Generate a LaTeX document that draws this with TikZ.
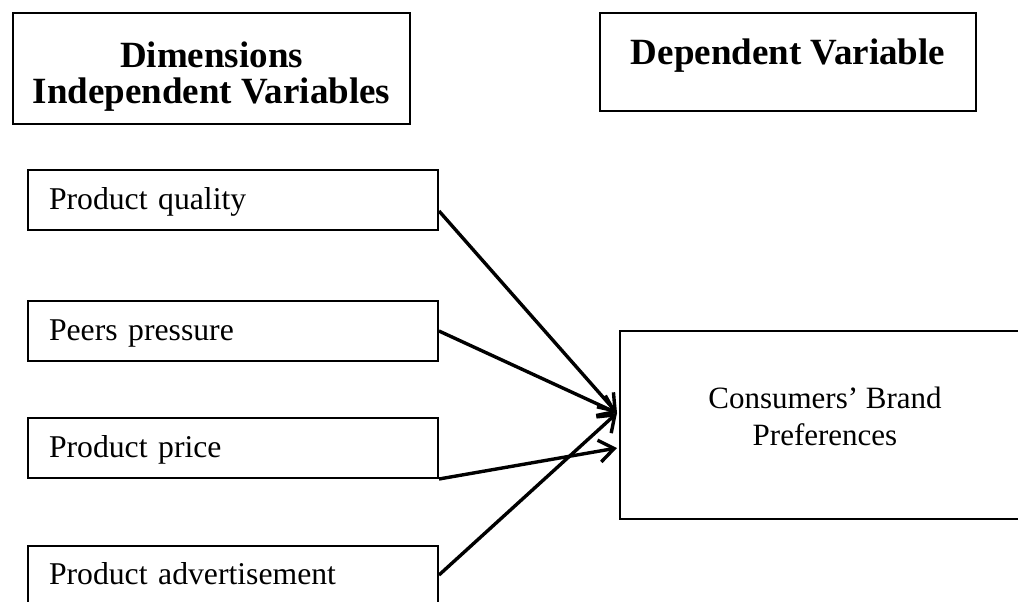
\documentclass[tikz,border=0pt]{standalone}
\usepackage{fontspec}
\setmainfont{Liberation Serif}
\usetikzlibrary{arrows.meta}
\begin{document}
\begin{tikzpicture}[x=1pt,y=-1pt,
  box/.style={draw, line width=2pt, inner sep=3pt, anchor=north west},
  var/.style={box, minimum width=410pt, minimum height=60pt, text width=368pt,
    inner xsep=21pt, align=left, text height=36pt, text depth=18pt,
    font=\fontsize{31.7}{36}\selectfont},
  head/.style={box, font=\fontsize{37}{36}\selectfont\bfseries, align=center},
  link/.style={line width=3.4pt, -{Straight Barb[length=15pt,width=22pt]}},
]
\clip (0,0) rectangle (1018,602);
% headers
\node[head, minimum width=397pt, minimum height=111pt] (h1) at (12,12)
  {\rule{0pt}{51pt}Dimensions\\Independent Variables\rule[-18pt]{0pt}{0pt}};
\node[head, minimum width=376pt, minimum height=98pt, text height=49pt, text depth=43pt] (h2) at (599,12)
  {Dependent Variable};
% independent variables
\node[var] (q) at (27,169) {Product quality};
\node[var] (pp) at (27,300) {Peers pressure};
\node[var] (pr) at (27,417) {Product price};
\node[var, text height=35pt, text depth=19pt] (ad) at (27,545) {Product advertisement};
% dependent variable
\node[box, minimum width=410pt, minimum height=188pt, align=center,
  font=\fontsize{31}{37}\selectfont] (c) at (619,330)
  {\rule{0pt}{74pt}Consumers’ Brand\\Preferences\rule[-71pt]{0pt}{0pt}};
% arrow targets
\coordinate (t1) at ([xshift=-2pt,yshift=12pt]c.west);
\coordinate (t2) at ([xshift=-2pt,yshift=-23pt]c.west);
% connectors
\draw[link] ([yshift=-11pt]q.east) -- (t1);
\draw[link] (pp.east) -- (t1);
\draw[link] (pr.south east) -- (t2);
\draw[link] ([yshift=-30pt]ad.north east) -- (t1);
\end{tikzpicture}
\end{document}
